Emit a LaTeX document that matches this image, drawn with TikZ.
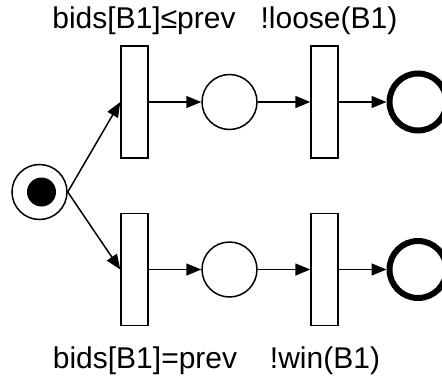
\documentclass[tikz,border=0pt]{standalone}
\usepackage{fontspec}
\setmainfont{Liberation Sans}
\usepackage{tikz}
\usetikzlibrary{arrows.meta}

\tikzset{
  trans/.style={draw, line width=1.5pt, minimum width=27pt, minimum height=112pt, inner sep=0pt},
  place/.style={draw, circle, line width=1.5pt, minimum size=55pt, inner sep=0pt},
  final/.style={draw, circle, line width=6pt, minimum size=57pt, inner sep=0pt},
  arc/.style={line width=1.5pt, -{Triangle[length=15pt,width=12pt]}},
  guard/.style={anchor=base, font=\fontsize{30}{34}\selectfont}
}

\begin{document}
\begin{tikzpicture}[x=1pt, y=-1pt]
\useasboundingbox (0,0) rectangle (442,378);

% initial place with its token
\node[place] (start) at (39.5,192) {};
\fill (41.5,192) circle (14.5pt);

% upper branch
\node[trans] (t1) at (134.5,102) {};
\node[place] (p1) at (229.5,102) {};
\node[trans] (t2) at (324.5,102) {};
\node[final] (f1) at (418,102) {};

% lower branch
\node[trans] (t3) at (134.5,269.5) {};
\node[place] (p2) at (229.5,269.5) {};
\node[trans] (t4) at (324.5,269.5) {};
\node[final] (f2) at (418,269.5) {};

% arcs
\draw[arc] (start.east) -- (t1.west);
\draw[arc] (start.east) -- (t3.west);
\draw[arc] (t1) -- (p1);
\draw[arc] (p1) -- (t2);
\draw[arc] (t2) -- (f1);
\draw[arc] (t3) -- (p2);
\draw[arc] (p2) -- (t4);
\draw[arc] (t4) -- (f2);

% guards
\node[guard] (g1) at (144,28.5) {bids[B1]≤prev};
\node[guard] (g2) at (329,28.5) {!loose(B1)};
\node[guard] (g3) at (145,368) {bids[B1]=prev};
\node[guard] (g4) at (325,368) {!win(B1)};

\end{tikzpicture}
\end{document}
